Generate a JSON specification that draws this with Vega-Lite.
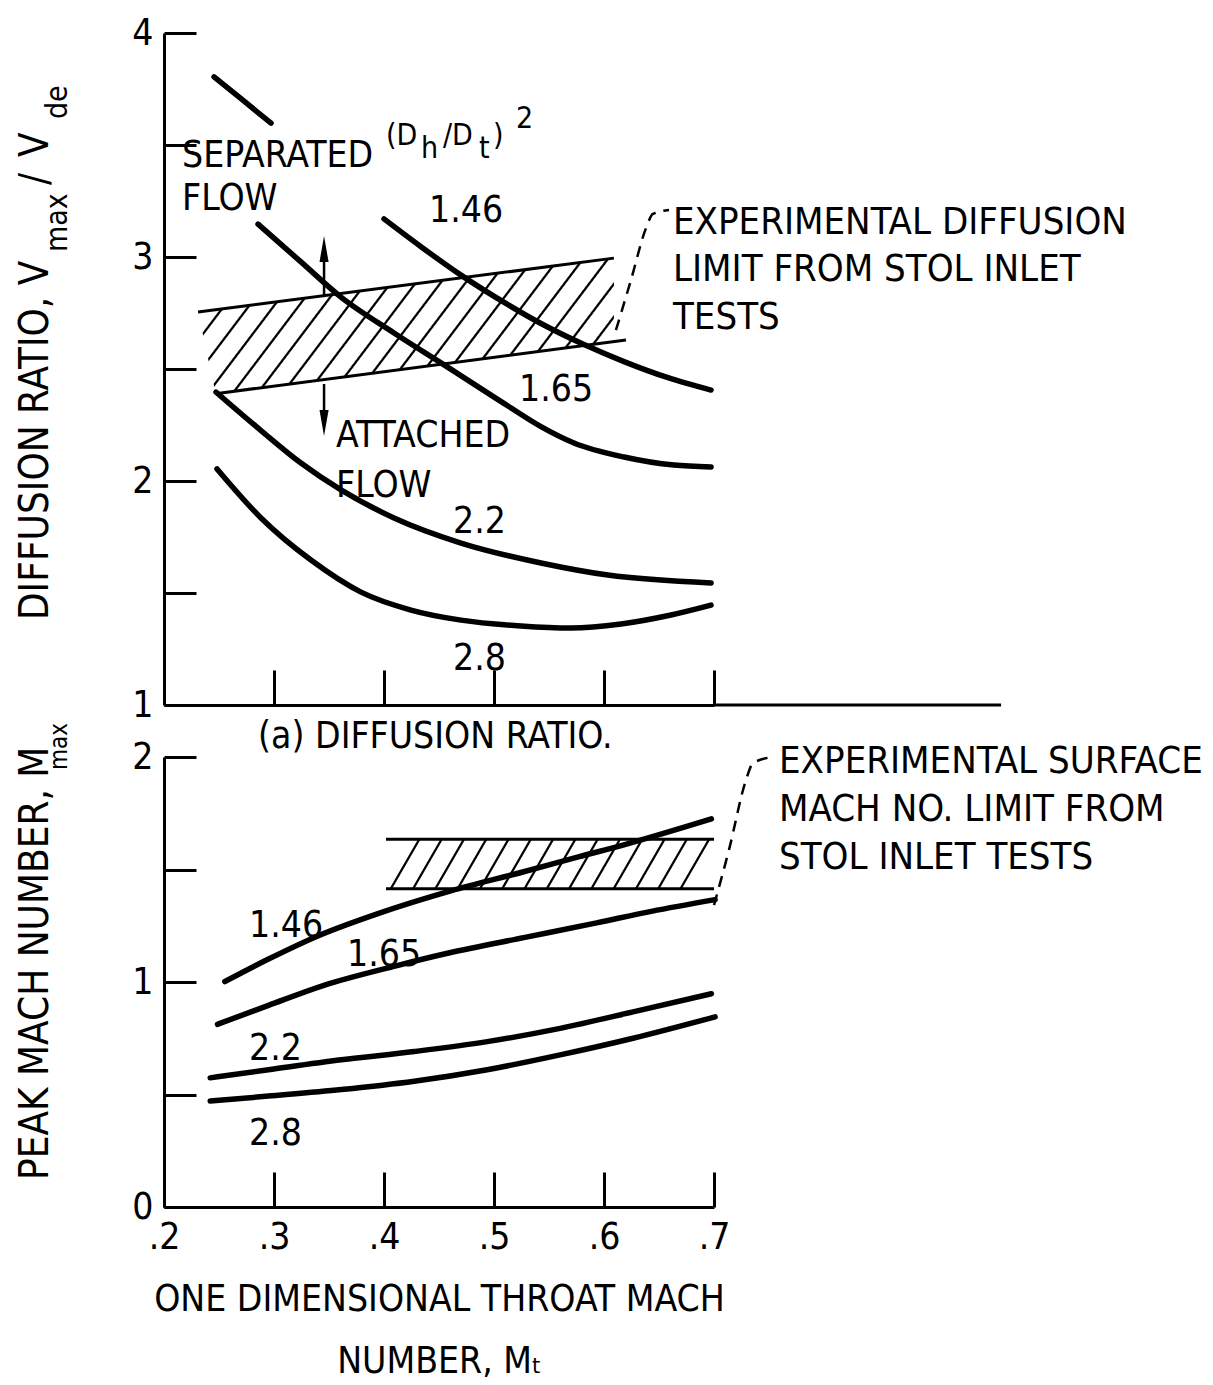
{
  "$schema": "https://vega.github.io/schema/vega-lite/v6.json",
  "background": "white",
  "padding": {"left": 16, "top": 14, "right": 10, "bottom": 5},
  "config": {
    "font": "DejaVu Sans Condensed",
    "view": {"stroke": null},
    "axis": {
      "domainColor": "black", "domainWidth": 3, "tickColor": "black", "tickWidth": 3,
      "labelColor": "black", "labelFontSize": 37, "labelFont": "DejaVu Sans Condensed",
      "grid": false, "labelFlush": false, "labelOverlap": false,
      "titleColor": "black", "titleFontWeight": "normal", "titleFont": "DejaVu Sans Condensed", "titleFontSize": 37
    },
    "text": {"color": "black", "font": "DejaVu Sans Condensed"}
  },
  "datasets": {
    "top_band": [
      {"x": 0.231, "y": 2.754, "y2": 2.754},
      {"x": 0.247, "y": 2.764, "y2": 2.390},
      {"x": 0.609, "y": 2.995, "y2": 2.622}
    ],
    "top_edges": [
      {"edge": "upper", "x": 0.231, "y": 2.754},
      {"edge": "upper", "x": 0.609, "y": 2.995},
      {"edge": "lower", "x": 0.247, "y": 2.390},
      {"edge": "lower", "x": 0.620, "y": 2.629}
    ],
    "top_curves": [
      {"ratio": "unlabeled", "x": 0.2455, "y": 3.804},
      {"ratio": "unlabeled", "x": 0.2714, "y": 3.701},
      {"ratio": "unlabeled", "x": 0.2973, "y": 3.598},
      {"ratio": "1.46", "x": 0.400, "y": 3.170},
      {"ratio": "1.46", "x": 0.4336, "y": 3.046},
      {"ratio": "1.46", "x": 0.470, "y": 2.919},
      {"ratio": "1.46", "x": 0.5127, "y": 2.787},
      {"ratio": "1.46", "x": 0.5427, "y": 2.703},
      {"ratio": "1.46", "x": 0.5818, "y": 2.609},
      {"ratio": "1.46", "x": 0.6182, "y": 2.533},
      {"ratio": "1.46", "x": 0.6582, "y": 2.461},
      {"ratio": "1.46", "x": 0.6973, "y": 2.406},
      {"ratio": "1.65", "x": 0.2855, "y": 3.147},
      {"ratio": "1.65", "x": 0.3245, "y": 2.978},
      {"ratio": "1.65", "x": 0.3609, "y": 2.821},
      {"ratio": "1.65", "x": 0.4091, "y": 2.661},
      {"ratio": "1.65", "x": 0.4564, "y": 2.513},
      {"ratio": "1.65", "x": 0.5127, "y": 2.335},
      {"ratio": "1.65", "x": 0.5427, "y": 2.243},
      {"ratio": "1.65", "x": 0.5727, "y": 2.170},
      {"ratio": "1.65", "x": 0.6182, "y": 2.107},
      {"ratio": "1.65", "x": 0.6636, "y": 2.071},
      {"ratio": "1.65", "x": 0.6973, "y": 2.063},
      {"ratio": "2.2", "x": 0.2473, "y": 2.397},
      {"ratio": "2.2", "x": 0.2882, "y": 2.225},
      {"ratio": "2.2", "x": 0.3245, "y": 2.080},
      {"ratio": "2.2", "x": 0.3609, "y": 1.960},
      {"ratio": "2.2", "x": 0.4091, "y": 1.835},
      {"ratio": "2.2", "x": 0.470, "y": 1.723},
      {"ratio": "2.2", "x": 0.5427, "y": 1.634},
      {"ratio": "2.2", "x": 0.6036, "y": 1.580},
      {"ratio": "2.2", "x": 0.6973, "y": 1.545},
      {"ratio": "2.8", "x": 0.2482, "y": 2.054},
      {"ratio": "2.8", "x": 0.2882, "y": 1.835},
      {"ratio": "2.8", "x": 0.3336, "y": 1.647},
      {"ratio": "2.8", "x": 0.3791, "y": 1.504},
      {"ratio": "2.8", "x": 0.4245, "y": 1.424},
      {"ratio": "2.8", "x": 0.470, "y": 1.379},
      {"ratio": "2.8", "x": 0.5245, "y": 1.353},
      {"ratio": "2.8", "x": 0.570, "y": 1.344},
      {"ratio": "2.8", "x": 0.6155, "y": 1.362},
      {"ratio": "2.8", "x": 0.6609, "y": 1.402},
      {"ratio": "2.8", "x": 0.6973, "y": 1.446}
    ],
    "top_leader": [
      {"x": 0.6109, "y": 2.674},
      {"x": 0.6245, "y": 2.897},
      {"x": 0.6382, "y": 3.129},
      {"x": 0.6445, "y": 3.192},
      {"x": 0.6591, "y": 3.210}
    ],
    "top_arrow_shafts": [
      {"x": 0.3455, "y": 2.821, "y2": 3.05},
      {"x": 0.3455, "y": 2.433, "y2": 2.25}
    ],
    "top_arrow_heads": [
      {"dir": "up", "x": 0.3455, "y": 3.094},
      {"dir": "down", "x": 0.3455, "y": 2.201}
    ],
    "top_axis_ext": [
      {"x": 0.7, "x2": 0.961, "y": 1}
    ],
    "top_text": [
      {"text": "SEPARATED", "x": 0.2164, "y": 3.402},
      {"text": "FLOW", "x": 0.2164, "y": 3.210},
      {"text": "1.46", "x": 0.4409, "y": 3.156},
      {"text": "1.65", "x": 0.5227, "y": 2.357},
      {"text": "ATTACHED", "x": 0.3564, "y": 2.152},
      {"text": "FLOW", "x": 0.3564, "y": 1.929},
      {"text": "2.2", "x": 0.4627, "y": 1.768},
      {"text": "2.8", "x": 0.4627, "y": 1.156},
      {"text": "(a) DIFFUSION RATIO.", "x": 0.2855, "y": 0.808}
    ],
    "top_note": [
      {"text": "EXPERIMENTAL DIFFUSION", "x": 0.6627, "y": 3.103},
      {"text": "LIMIT FROM STOL INLET", "x": 0.6627, "y": 2.893},
      {"text": "TESTS", "x": 0.6627, "y": 2.679}
    ],
    "top_head": [
      {"text": "(D", "x": 0.4018, "y": 3.500},
      {"text": "h", "x": 0.4336, "y": 3.442},
      {"text": "/D", "x": 0.4536, "y": 3.500},
      {"text": "t", "x": 0.4864, "y": 3.442},
      {"text": ")", "x": 0.4991, "y": 3.500},
      {"text": "2", "x": 0.5200, "y": 3.576}
    ],
    "top_title_main": [
      {"text": "DIFFUSION RATIO, V", "x": 0.09455, "y": 1.379},
      {"text": "/", "x": 0.09455, "y": 3.321},
      {"text": "V", "x": 0.09455, "y": 3.446}
    ],
    "top_title_sub": [
      {"text": "max", "x": 0.1118, "y": 3.022},
      {"text": "de", "x": 0.1118, "y": 3.616}
    ],
    "bot_band": [
      {"x": 0.4018, "y": 1.415, "y2": 1.415},
      {"x": 0.4218, "y": 1.635, "y2": 1.415},
      {"x": 0.680, "y": 1.635, "y2": 1.415},
      {"x": 0.700, "y": 1.635, "y2": 1.635}
    ],
    "bot_edges": [
      {"edge": "upper", "x": 0.4018, "y": 1.635},
      {"edge": "upper", "x": 0.700, "y": 1.635},
      {"edge": "lower", "x": 0.4018, "y": 1.415},
      {"edge": "lower", "x": 0.700, "y": 1.415}
    ],
    "bot_curves": [
      {"ratio": "1.46", "x": 0.2553, "y": 1.002},
      {"ratio": "1.46", "x": 0.295, "y": 1.102},
      {"ratio": "1.46", "x": 0.3415, "y": 1.208},
      {"ratio": "1.46", "x": 0.3945, "y": 1.304},
      {"ratio": "1.46", "x": 0.4607, "y": 1.405},
      {"ratio": "1.46", "x": 0.527, "y": 1.490},
      {"ratio": "1.46", "x": 0.5767, "y": 1.556},
      {"ratio": "1.46", "x": 0.6197, "y": 1.612},
      {"ratio": "1.46", "x": 0.6976, "y": 1.725},
      {"ratio": "1.65", "x": 0.2486, "y": 0.812},
      {"ratio": "1.65", "x": 0.295, "y": 0.896},
      {"ratio": "1.65", "x": 0.3447, "y": 0.984},
      {"ratio": "1.65", "x": 0.411, "y": 1.072},
      {"ratio": "1.65", "x": 0.4607, "y": 1.131},
      {"ratio": "1.65", "x": 0.527, "y": 1.197},
      {"ratio": "1.65", "x": 0.5933, "y": 1.263},
      {"ratio": "1.65", "x": 0.643, "y": 1.314},
      {"ratio": "1.65", "x": 0.701, "y": 1.366},
      {"ratio": "2.2", "x": 0.242, "y": 0.574},
      {"ratio": "2.2", "x": 0.295, "y": 0.610},
      {"ratio": "2.2", "x": 0.3613, "y": 0.654},
      {"ratio": "2.2", "x": 0.4275, "y": 0.691},
      {"ratio": "2.2", "x": 0.4938, "y": 0.735},
      {"ratio": "2.2", "x": 0.5601, "y": 0.794},
      {"ratio": "2.2", "x": 0.6264, "y": 0.867},
      {"ratio": "2.2", "x": 0.6976, "y": 0.948},
      {"ratio": "2.8", "x": 0.242, "y": 0.471},
      {"ratio": "2.8", "x": 0.295, "y": 0.493},
      {"ratio": "2.8", "x": 0.3613, "y": 0.522},
      {"ratio": "2.8", "x": 0.4275, "y": 0.559},
      {"ratio": "2.8", "x": 0.4938, "y": 0.610},
      {"ratio": "2.8", "x": 0.5601, "y": 0.676},
      {"ratio": "2.8", "x": 0.6264, "y": 0.750},
      {"ratio": "2.8", "x": 0.701, "y": 0.845}
    ],
    "bot_leader": [
      {"x": 0.700, "y": 1.342},
      {"x": 0.7136, "y": 1.587},
      {"x": 0.7291, "y": 1.898},
      {"x": 0.7355, "y": 1.973},
      {"x": 0.7536, "y": 2.000}
    ],
    "bot_text": [
      {"text": "1.46", "x": 0.2773, "y": 1.200},
      {"text": "1.65", "x": 0.3664, "y": 1.071},
      {"text": "2.2", "x": 0.2773, "y": 0.653},
      {"text": "2.8", "x": 0.2773, "y": 0.276}
    ],
    "bot_note": [
      {"text": "EXPERIMENTAL SURFACE", "x": 0.7591, "y": 1.929},
      {"text": "MACH NO. LIMIT FROM", "x": 0.7591, "y": 1.716},
      {"text": "STOL INLET TESTS", "x": 0.7591, "y": 1.502}
    ],
    "bot_title_main": [
      {"text": "PEAK MACH NUMBER, M", "x": 0.09455, "y": 0.120}
    ],
    "bot_title_sub": [
      {"text": "max", "x": 0.1118, "y": 1.942}
    ]
  },
  "spacing": 52,
  "bounds": "flush",
  "vconcat": [
    {
      "width": 550,
      "height": 672,
      "encoding": {
        "x": {"field": "x", "type": "quantitative", "scale": {"domain": [0.2, 0.7], "nice": false, "zero": false},
              "axis": {"values": [0.3, 0.4, 0.5, 0.6, 0.7], "tickSize": -35, "labels": false, "title": null}},
        "y": {"field": "y", "type": "quantitative", "scale": {"domain": [1, 4], "nice": false, "zero": false},
              "axis": {"values": [1, 1.5, 2, 2.5, 3, 3.5, 4], "tickSize": -32, "labelPadding": 43,
                       "labelExpr": "datum.value % 1 === 0 ? format(datum.value, 'd') : ''", "title": null}}
      },
      "layer": [
        {
          "data": {"name": "top_band"},
          "mark": {"type": "area", "stroke": null, "opacity": 1, "fillOpacity": 1,
            "fill": {"gradient": "linear", "x1": 0, "y1": 0, "x2": 1.175, "y2": 0.2895, "stops": [
              {"offset": 0.020, "color": "white"}, {"offset": 0.0225, "color": "black"}, {"offset": 0.0255, "color": "black"}, {"offset": 0.028, "color": "white"},
              {"offset": 0.068, "color": "white"}, {"offset": 0.0705, "color": "black"}, {"offset": 0.0735, "color": "black"}, {"offset": 0.076, "color": "white"},
              {"offset": 0.116, "color": "white"}, {"offset": 0.1185, "color": "black"}, {"offset": 0.1215, "color": "black"}, {"offset": 0.124, "color": "white"},
              {"offset": 0.164, "color": "white"}, {"offset": 0.1665, "color": "black"}, {"offset": 0.1695, "color": "black"}, {"offset": 0.172, "color": "white"},
              {"offset": 0.212, "color": "white"}, {"offset": 0.2145, "color": "black"}, {"offset": 0.2175, "color": "black"}, {"offset": 0.220, "color": "white"},
              {"offset": 0.260, "color": "white"}, {"offset": 0.2625, "color": "black"}, {"offset": 0.2655, "color": "black"}, {"offset": 0.268, "color": "white"},
              {"offset": 0.308, "color": "white"}, {"offset": 0.3105, "color": "black"}, {"offset": 0.3135, "color": "black"}, {"offset": 0.316, "color": "white"},
              {"offset": 0.356, "color": "white"}, {"offset": 0.3585, "color": "black"}, {"offset": 0.3615, "color": "black"}, {"offset": 0.364, "color": "white"},
              {"offset": 0.404, "color": "white"}, {"offset": 0.4065, "color": "black"}, {"offset": 0.4095, "color": "black"}, {"offset": 0.412, "color": "white"},
              {"offset": 0.452, "color": "white"}, {"offset": 0.4545, "color": "black"}, {"offset": 0.4575, "color": "black"}, {"offset": 0.460, "color": "white"},
              {"offset": 0.500, "color": "white"}, {"offset": 0.5025, "color": "black"}, {"offset": 0.5055, "color": "black"}, {"offset": 0.508, "color": "white"},
              {"offset": 0.548, "color": "white"}, {"offset": 0.5505, "color": "black"}, {"offset": 0.5535, "color": "black"}, {"offset": 0.556, "color": "white"},
              {"offset": 0.596, "color": "white"}, {"offset": 0.5985, "color": "black"}, {"offset": 0.6015, "color": "black"}, {"offset": 0.604, "color": "white"},
              {"offset": 0.644, "color": "white"}, {"offset": 0.6465, "color": "black"}, {"offset": 0.6495, "color": "black"}, {"offset": 0.652, "color": "white"},
              {"offset": 0.692, "color": "white"}, {"offset": 0.6945, "color": "black"}, {"offset": 0.6975, "color": "black"}, {"offset": 0.700, "color": "white"},
              {"offset": 0.740, "color": "white"}, {"offset": 0.7425, "color": "black"}, {"offset": 0.7455, "color": "black"}, {"offset": 0.748, "color": "white"},
              {"offset": 0.788, "color": "white"}, {"offset": 0.7905, "color": "black"}, {"offset": 0.7935, "color": "black"}, {"offset": 0.796, "color": "white"},
              {"offset": 0.836, "color": "white"}, {"offset": 0.8385, "color": "black"}, {"offset": 0.8415, "color": "black"}, {"offset": 0.844, "color": "white"},
              {"offset": 0.884, "color": "white"}, {"offset": 0.8865, "color": "black"}, {"offset": 0.8895, "color": "black"}, {"offset": 0.892, "color": "white"},
              {"offset": 0.932, "color": "white"}, {"offset": 0.9345, "color": "black"}, {"offset": 0.9375, "color": "black"}, {"offset": 0.940, "color": "white"},
              {"offset": 0.980, "color": "white"}, {"offset": 0.9825, "color": "black"}, {"offset": 0.9855, "color": "black"}, {"offset": 0.988, "color": "white"}
            ]}},
          "encoding": {"y2": {"field": "y2"}}
        },
        {
          "data": {"name": "top_edges"},
          "mark": {"type": "line", "color": "black", "strokeWidth": 3},
          "encoding": {"detail": {"field": "edge", "type": "nominal"}}
        },
        {
          "data": {"name": "top_curves"},
          "mark": {"type": "line", "color": "black", "strokeWidth": 5.5, "strokeCap": "round", "interpolate": "monotone"},
          "encoding": {"detail": {"field": "ratio", "type": "nominal"}}
        },
        {
          "data": {"name": "top_leader"},
          "mark": {"type": "line", "color": "black", "strokeWidth": 2.5, "strokeDash": [11, 8], "interpolate": "monotone"},
          "encoding": {}
        },
        {
          "data": {"name": "top_arrow_shafts"},
          "mark": {"type": "rule", "color": "black", "strokeWidth": 2.5},
          "encoding": {"y2": {"field": "y2"}}
        },
        {
          "data": {"name": "top_arrow_heads"},
          "mark": {"type": "point", "filled": true, "color": "black", "size": 676, "opacity": 1, "strokeWidth": 0},
          "encoding": {"shape": {"field": "dir", "type": "nominal", "legend": null,
            "scale": {"domain": ["up", "down"], "range": ["M0,0L0.35,2L-0.35,2Z", "M0,0L0.35,-2L-0.35,-2Z"]}}}
        },
        {
          "data": {"name": "top_axis_ext"},
          "mark": {"type": "rule", "color": "black", "strokeWidth": 3},
          "encoding": {"x2": {"field": "x2"}}
        },
        {
          "data": {"name": "top_text"},
          "mark": {"type": "text", "align": "left", "baseline": "alphabetic", "fontSize": 37},
          "encoding": {"text": {"field": "text"}}
        },
        {
          "data": {"name": "top_note"},
          "mark": {"type": "text", "align": "left", "baseline": "alphabetic", "fontSize": 38},
          "encoding": {"text": {"field": "text"}}
        },
        {
          "data": {"name": "top_head"},
          "mark": {"type": "text", "align": "left", "baseline": "alphabetic", "fontSize": 30},
          "encoding": {"text": {"field": "text"}}
        },
        {
          "data": {"name": "top_title_main"},
          "mark": {"type": "text", "align": "left", "baseline": "alphabetic", "fontSize": 40, "angle": 270},
          "encoding": {"text": {"field": "text"}}
        },
        {
          "data": {"name": "top_title_sub"},
          "mark": {"type": "text", "align": "left", "baseline": "alphabetic", "fontSize": 30, "angle": 270},
          "encoding": {"text": {"field": "text"}}
        }
      ]
    },
    {
      "width": 550,
      "height": 450,
      "encoding": {
        "x": {"field": "x", "type": "quantitative", "scale": {"domain": [0.2, 0.7], "nice": false, "zero": false},
              "axis": {"values": [0.2, 0.3, 0.4, 0.5, 0.6, 0.7], "tickSize": -35, "labelPadding": 47,
                       "labelExpr": "'.' + format(datum.value * 10, '.0f')",
                       "title": ["ONE DIMENSIONAL THROAT MACH", "NUMBER, Mₜ"], "titlePadding": 26, "titleLineHeight": 62}},
        "y": {"field": "y", "type": "quantitative", "scale": {"domain": [0, 2], "nice": false, "zero": false},
              "axis": {"values": [0, 0.5, 1, 1.5, 2], "tickSize": -32, "labelPadding": 43,
                       "labelExpr": "datum.value % 1 === 0 ? format(datum.value, 'd') : ''", "title": null}}
      },
      "layer": [
        {
          "data": {"name": "bot_band"},
          "mark": {"type": "area", "stroke": null, "opacity": 1, "fillOpacity": 1,
            "fill": {"gradient": "linear", "x1": 0, "y1": 0, "x2": 1.079, "y2": 0.094, "stops": [
              {"offset": 0.0261, "color": "white"}, {"offset": 0.0293, "color": "black"}, {"offset": 0.0333, "color": "black"}, {"offset": 0.0365, "color": "white"},
              {"offset": 0.0886, "color": "white"}, {"offset": 0.0918, "color": "black"}, {"offset": 0.0958, "color": "black"}, {"offset": 0.0990, "color": "white"},
              {"offset": 0.1511, "color": "white"}, {"offset": 0.1543, "color": "black"}, {"offset": 0.1583, "color": "black"}, {"offset": 0.1615, "color": "white"},
              {"offset": 0.2136, "color": "white"}, {"offset": 0.2168, "color": "black"}, {"offset": 0.2208, "color": "black"}, {"offset": 0.2240, "color": "white"},
              {"offset": 0.2761, "color": "white"}, {"offset": 0.2793, "color": "black"}, {"offset": 0.2833, "color": "black"}, {"offset": 0.2865, "color": "white"},
              {"offset": 0.3386, "color": "white"}, {"offset": 0.3418, "color": "black"}, {"offset": 0.3458, "color": "black"}, {"offset": 0.3490, "color": "white"},
              {"offset": 0.4011, "color": "white"}, {"offset": 0.4043, "color": "black"}, {"offset": 0.4083, "color": "black"}, {"offset": 0.4115, "color": "white"},
              {"offset": 0.4636, "color": "white"}, {"offset": 0.4668, "color": "black"}, {"offset": 0.4708, "color": "black"}, {"offset": 0.4740, "color": "white"},
              {"offset": 0.5261, "color": "white"}, {"offset": 0.5293, "color": "black"}, {"offset": 0.5333, "color": "black"}, {"offset": 0.5365, "color": "white"},
              {"offset": 0.5886, "color": "white"}, {"offset": 0.5918, "color": "black"}, {"offset": 0.5958, "color": "black"}, {"offset": 0.5990, "color": "white"},
              {"offset": 0.6511, "color": "white"}, {"offset": 0.6543, "color": "black"}, {"offset": 0.6583, "color": "black"}, {"offset": 0.6615, "color": "white"},
              {"offset": 0.7136, "color": "white"}, {"offset": 0.7168, "color": "black"}, {"offset": 0.7208, "color": "black"}, {"offset": 0.7240, "color": "white"},
              {"offset": 0.7761, "color": "white"}, {"offset": 0.7793, "color": "black"}, {"offset": 0.7833, "color": "black"}, {"offset": 0.7865, "color": "white"},
              {"offset": 0.8386, "color": "white"}, {"offset": 0.8418, "color": "black"}, {"offset": 0.8458, "color": "black"}, {"offset": 0.8490, "color": "white"},
              {"offset": 0.9011, "color": "white"}, {"offset": 0.9043, "color": "black"}, {"offset": 0.9083, "color": "black"}, {"offset": 0.9115, "color": "white"},
              {"offset": 0.9636, "color": "white"}, {"offset": 0.9668, "color": "black"}, {"offset": 0.9708, "color": "black"}, {"offset": 0.9740, "color": "white"}
            ]}},
          "encoding": {"y2": {"field": "y2"}}
        },
        {
          "data": {"name": "bot_edges"},
          "mark": {"type": "line", "color": "black", "strokeWidth": 3},
          "encoding": {"detail": {"field": "edge", "type": "nominal"}}
        },
        {
          "data": {"name": "bot_curves"},
          "mark": {"type": "line", "color": "black", "strokeWidth": 5.5, "strokeCap": "round", "interpolate": "monotone"},
          "encoding": {"detail": {"field": "ratio", "type": "nominal"}}
        },
        {
          "data": {"name": "bot_leader"},
          "mark": {"type": "line", "color": "black", "strokeWidth": 2.5, "strokeDash": [11, 8], "interpolate": "monotone"},
          "encoding": {}
        },
        {
          "data": {"name": "bot_text"},
          "mark": {"type": "text", "align": "left", "baseline": "alphabetic", "fontSize": 37},
          "encoding": {"text": {"field": "text"}}
        },
        {
          "data": {"name": "bot_note"},
          "mark": {"type": "text", "align": "left", "baseline": "alphabetic", "fontSize": 38},
          "encoding": {"text": {"field": "text"}}
        },
        {
          "data": {"name": "bot_title_main"},
          "mark": {"type": "text", "align": "left", "baseline": "alphabetic", "fontSize": 40, "angle": 270},
          "encoding": {"text": {"field": "text"}}
        },
        {
          "data": {"name": "bot_title_sub"},
          "mark": {"type": "text", "align": "left", "baseline": "alphabetic", "fontSize": 24, "angle": 270},
          "encoding": {"text": {"field": "text"}}
        }
      ]
    }
  ]
}
